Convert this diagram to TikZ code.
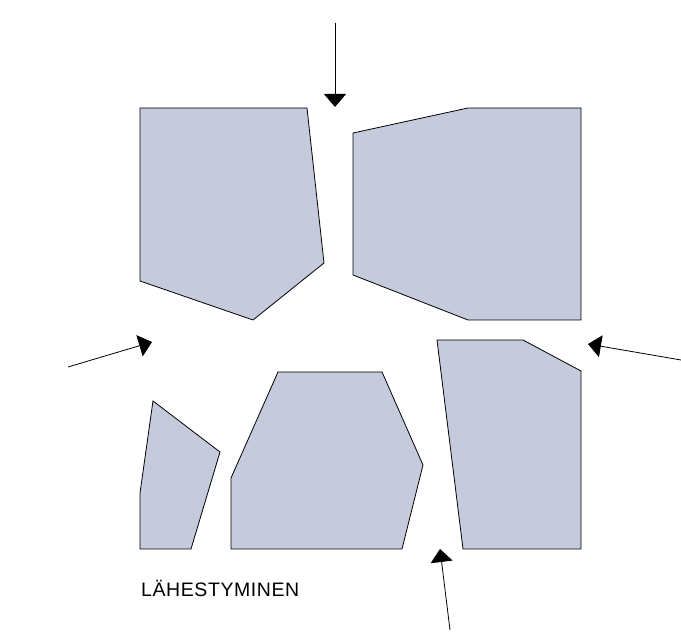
\documentclass[tikz,border=0pt]{standalone}
\usepackage{fontspec}
\setmainfont{Liberation Sans}
\usetikzlibrary{arrows.meta}
\definecolor{pala}{RGB}{197,203,220}
\tikzset{
	piece/.style={fill=pala, draw=black, line width=0.8pt, line join=miter},
	push/.style={draw=black, line width=0.8pt, -{Triangle[width=22pt, length=13pt]}}
}
\begin{document}
\begin{tikzpicture}[x=1pt, y=-1pt]
		\useasboundingbox (0,0) rectangle (681,636);
		% palat
		\filldraw[piece] (140,108) -- (307,108) -- (324,263) -- (253,320) -- (140,281) -- cycle;
		\filldraw[piece] (353,133) -- (468,108) -- (581,108) -- (581,320) -- (468,320) -- (353,275) -- cycle;
		\filldraw[piece] (153,401) -- (220,452) -- (191,549) -- (140,549) -- (140,493) -- cycle;
		\filldraw[piece] (278,372) -- (382,372) -- (423,465) -- (402,549) -- (231,549) -- (231,478) -- cycle;
		\filldraw[piece] (437,340) -- (523,340) -- (581,371) -- (581,549) -- (463,549) -- cycle;
		% nuolet
		\coordinate (ylaA) at (335,23);   \coordinate (ylaB) at (335,107);
		\coordinate (vasA) at (68,367);   \coordinate (vasB) at (152,342);
		\coordinate (oikA) at (681,360);  \coordinate (oikB) at (588,344);
		\coordinate (alaA) at (450,630);  \coordinate (alaB) at (440,549);
		\draw[push] (ylaA) -- (ylaB);
		\draw[push] (vasA) -- (vasB);
		\draw[push] (oikA) -- (oikB);
		\draw[push] (alaA) -- (alaB);
		\node[anchor=base west, inner sep=0pt, font=\fontsize{19.5}{19.5}\selectfont\addfontfeature{LetterSpace=3}] (otsikko) at (141,597) {LÄHESTYMINEN};
	\end{tikzpicture}
\end{document}
